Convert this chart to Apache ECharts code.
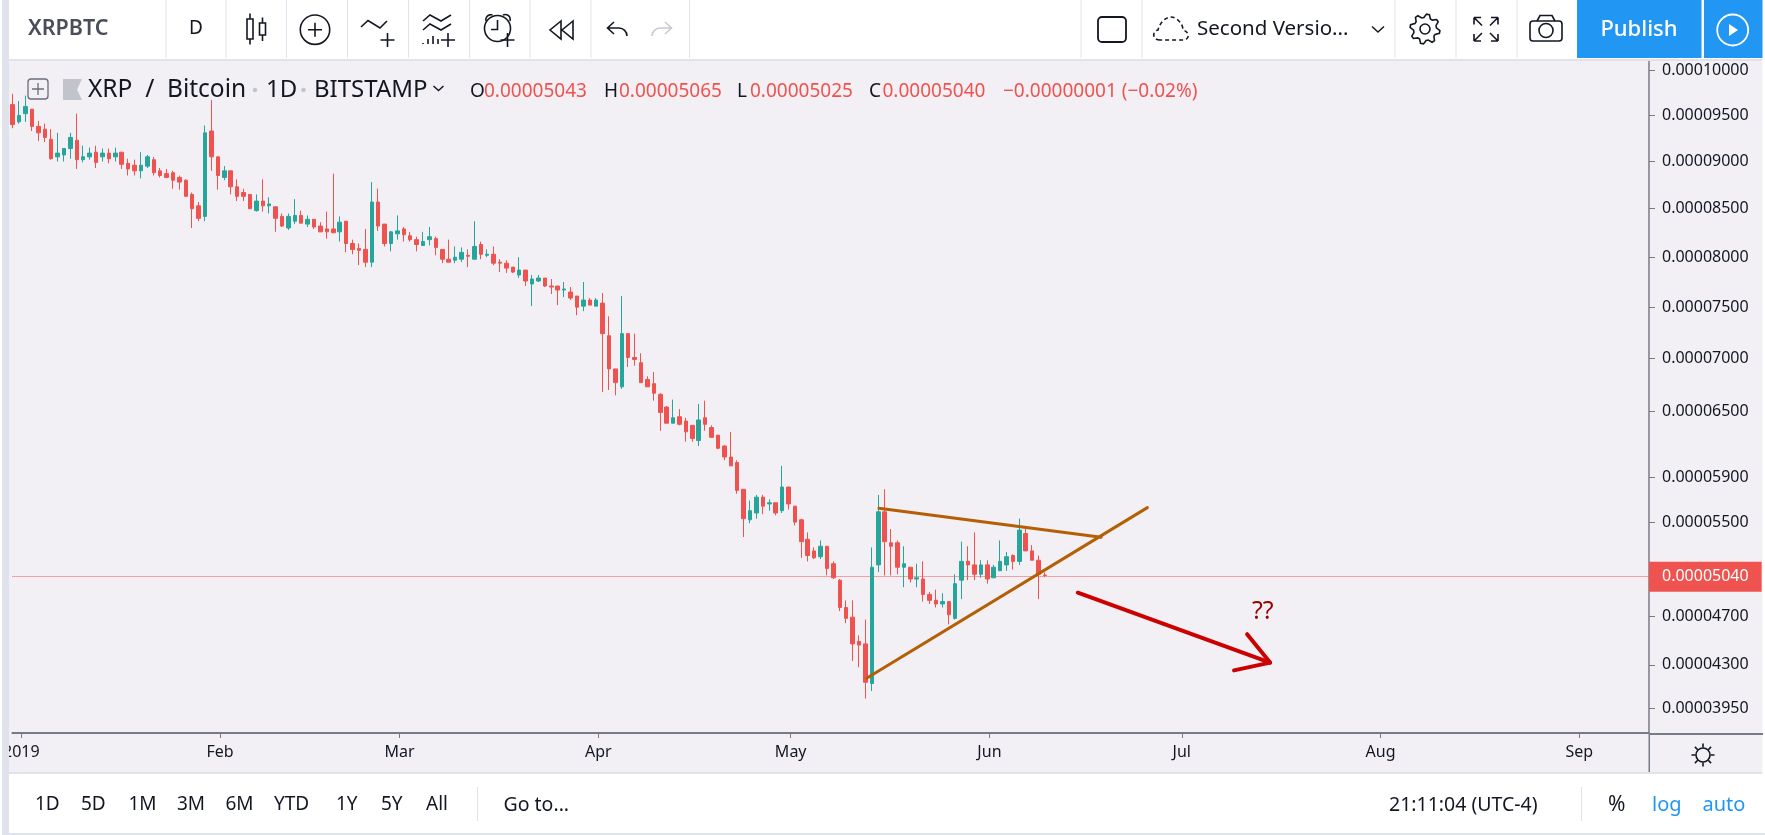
<!DOCTYPE html>
<html><head><meta charset="utf-8">
<style>html,body{margin:0;padding:0;background:#f2f0f4}#c{width:1765px;height:835px}</style>
<script src="https://cdn.jsdelivr.net/npm/echarts@6/dist/echarts.min.js"></script>
</head><body><div id="c"></div>
<script>
// All prices are in units of 0.00001 BTC
const opens=[9.62,9.43,9.52,9.57,9.38,9.35,9.24,9.05,9.07,9.14,
9.23,9.02,9.05,9.10,9.05,9.09,9.05,9.10,8.98,8.96,
8.90,8.95,9.02,8.90,8.87,8.88,8.83,8.80,8.65,8.53,
8.42,9.33,9.05,8.83,8.90,8.73,8.67,8.65,8.48,8.58,
8.53,8.52,8.42,8.30,8.37,8.43,8.34,8.39,8.32,8.29,
8.29,8.26,8.37,8.14,8.09,8.08,7.95,8.57,8.34,8.14,
8.24,8.29,8.22,8.18,8.12,8.18,8.19,8.08,7.98,7.97,
7.98,8.02,7.98,8.13,8.02,8.03,7.95,7.94,7.90,7.82,
7.87,7.73,7.76,7.79,7.71,7.71,7.67,7.65,7.61,7.51,
7.57,7.51,7.54,7.22,6.90,6.73,7.24,7.01,6.96,6.80,
6.76,6.66,6.54,6.39,6.45,6.41,6.37,6.23,6.44,6.35,
6.28,6.18,6.08,6.03,5.79,5.52,5.58,5.72,5.66,5.67,
5.60,5.81,5.64,5.52,5.35,5.25,5.20,5.29,5.14,5.00,
4.77,4.69,4.49,4.47,4.15,5.13,5.59,5.32,5.32,5.11,
5.11,5.01,5.01,4.88,4.83,4.80,4.82,4.68,5.00,5.16,
5.13,5.05,5.13,5.02,5.08,5.13,5.21,5.16,5.40,5.25,
5.17,5.043];
const highs=[9.74,9.66,9.72,9.57,9.44,9.41,9.35,9.31,9.14,9.31,
9.52,9.17,9.15,9.17,9.14,9.14,9.15,9.10,9.03,9.02,
9.10,9.07,9.05,8.93,8.92,8.90,8.85,8.81,8.67,8.57,
9.39,9.67,9.05,8.95,8.90,8.81,8.71,8.65,8.65,8.81,
8.62,8.52,8.45,8.45,8.60,8.48,8.43,8.39,8.36,8.47,
8.87,8.42,8.37,8.18,8.14,8.29,8.78,8.71,8.34,8.27,
8.43,8.31,8.26,8.21,8.26,8.31,8.21,8.08,8.18,8.11,
8.10,8.08,8.37,8.16,8.08,8.11,7.98,7.97,7.90,8.00,
7.87,7.82,7.82,7.79,7.78,7.71,7.75,7.70,7.61,7.75,
7.59,7.59,7.64,7.41,6.90,7.61,7.24,7.24,7.05,6.83,
6.87,6.67,6.55,6.61,6.52,6.44,6.37,6.57,6.60,6.37,
6.28,6.19,6.31,6.05,5.79,5.69,5.74,5.74,5.70,5.67,
6.00,5.81,5.64,5.53,5.41,5.28,5.34,5.29,5.16,5.01,
4.83,4.83,4.54,4.67,5.28,5.74,5.79,5.44,5.34,5.29,
5.11,5.14,5.16,4.90,4.92,4.89,4.82,5.05,5.33,5.29,
5.41,5.17,5.17,5.13,5.34,5.24,5.22,5.53,5.44,5.30,
5.21,5.065];
const lows=[9.36,9.41,9.43,9.33,9.22,9.21,9.02,9.00,9.00,9.03,
8.92,8.99,9.02,8.93,9.00,8.98,9.00,8.92,8.85,8.85,
8.82,8.93,8.85,8.83,8.83,8.71,8.70,8.63,8.30,8.37,
8.37,8.90,8.70,8.80,8.65,8.58,8.58,8.50,8.47,8.47,
8.45,8.26,8.31,8.28,8.34,8.35,8.31,8.29,8.26,8.19,
8.25,8.16,8.05,8.03,7.92,7.90,7.90,8.27,8.11,8.06,
8.18,8.16,8.16,8.06,8.12,8.12,8.02,7.94,7.95,7.94,
7.95,7.90,7.98,7.98,8.00,7.92,7.85,7.84,7.84,7.79,
7.71,7.51,7.75,7.70,7.63,7.52,7.60,7.57,7.42,7.46,
7.52,7.51,6.68,6.70,6.65,6.71,6.92,6.93,6.77,6.73,
6.60,6.32,6.39,6.39,6.37,6.22,6.22,6.18,6.32,6.26,
6.15,6.05,6.00,5.75,5.37,5.49,5.53,5.57,5.60,5.56,
5.58,5.61,5.47,5.19,5.16,5.18,5.18,5.04,5.01,4.74,
4.64,4.33,4.28,4.03,4.09,5.07,5.04,5.04,5.05,4.94,
4.98,4.94,4.82,4.80,4.77,4.77,4.63,4.67,4.84,5.00,
5.00,5.02,4.97,5.02,5.08,5.08,5.09,5.13,5.25,5.17,
4.84,5.025];
const closes=[9.40,9.50,9.60,9.38,9.31,9.26,9.03,9.09,9.14,9.26,
9.02,9.05,9.09,8.99,9.09,9.03,9.09,8.97,8.92,8.90,
8.96,9.05,8.88,8.85,8.83,8.80,8.78,8.63,8.50,8.40,
9.31,9.05,8.85,8.90,8.73,8.63,8.63,8.50,8.58,8.53,
8.55,8.40,8.32,8.42,8.43,8.35,8.39,8.31,8.26,8.26,
8.25,8.36,8.14,8.08,8.07,7.95,8.57,8.32,8.14,8.26,
8.27,8.23,8.18,8.13,8.16,8.21,8.10,7.98,7.95,8.00,
8.05,8.01,8.11,8.03,8.03,7.94,7.94,7.89,7.85,7.87,
7.76,7.78,7.79,7.71,7.70,7.67,7.68,7.59,7.50,7.57,
7.52,7.57,7.24,6.90,6.77,7.24,7.01,6.99,6.77,6.73,
6.67,6.49,6.39,6.44,6.38,6.31,6.25,6.42,6.38,6.26,
6.16,6.08,6.00,5.78,5.53,5.60,5.72,5.64,5.67,5.58,
5.81,5.66,5.50,5.33,5.21,5.19,5.29,5.10,5.02,4.77,
4.68,4.47,4.46,4.16,5.11,5.59,5.33,5.29,5.11,5.14,
5.01,5.02,4.88,4.83,4.80,4.82,4.71,4.97,5.16,5.13,
5.05,5.13,5.01,5.11,5.16,5.20,5.16,5.43,5.25,5.17,
5.05,5.04];
const priceTicks=[10,9.5,9,8.5,8,7.5,7,6.5,5.9,5.5,4.7,4.3,3.95];
const monthLabels=['2019','Feb','Mar','Apr','May','Jun','Jul','Aug','Sep'];
const monthDays=[0,31,59,90,120,151,181,212,243];     // days after 1 Jan 2019
const lastClose=5.04;
// drawing tools: [days after 1 Jan 2019, price]
const resistanceLine=[[133.76,5.622],[168.42,5.368]];
const supportLine=[[131.84,4.192],[175.63,5.627]];
const arrowShaft=[[164.78,4.894],[194.77,4.318]];
const arrowHead=[[191.19,4.549],[194.77,4.318],[189.15,4.255]];
const firstCandleDay=-1.34;

// the chart's price scale
const toAxis=p=>Math.log(p+10);
const fromAxis=v=>Math.exp(v)-10;
const candles=opens.map((o,i)=>[firstCandleDay+i,toAxis(o),toAxis(closes[i]),toAxis(lows[i]),toAxis(highs[i])]);
const path=pts=>pts.map(([d,p])=>[d,toAxis(p)]);
const FONT='"Noto Sans"', INK='#131722', GREY='#e0e3eb', AXIS='#787b86', UP='#26a69a', DOWN='#ef5350';

let shapeCount=0;
function shapeOf(d){const name='toolbarIcon'+(++shapeCount);echarts.graphic.registerShape(name,echarts.graphic.extendPath(d,{}));return name;}
const T=(x,y,text,size,color,extra)=>({type:'text',z:100,x,y,style:Object.assign({text,fontFamily:FONT,fontSize:size,fill:color||INK,textAlign:'left',textVerticalAlign:'middle'},extra||{})});
const R=(x,y,w,h,fill)=>({type:'rect',z:90,shape:{x,y,width:w,height:h},style:{fill}});
const I=(d,stroke,lw,fill,dash)=>({type:shapeOf(d),z:100,style:{stroke:fill&&!stroke?null:(stroke||INK),lineWidth:lw||1.6,fill:fill||'none',lineDash:dash||null}});
const C=(cx,cy,r,stroke,lw,fill)=>({type:'circle',z:100,shape:{cx,cy,r},style:{stroke:stroke||INK,lineWidth:lw||1.6,fill:fill||'none'}});
const plus=(x,y,a)=>`M${x-a} ${y}H${x+a}M${x} ${y-a}V${y+a}`;
function gear(cx,cy){let d='';const n=8;for(let i=0;i<n*4;i++){const a=(i+0.5)/(n*4)*Math.PI*2,r=(i%4<2)?15:11.5;d+=(i?'L':'M')+(cx+r*Math.cos(a)).toFixed(1)+' '+(cy+r*Math.sin(a)).toFixed(1);}return d+'Z';}
function rays(cx,cy){let d='';for(let i=0;i<8;i++){const a=i/8*Math.PI*2+Math.PI/2;d+=`M${(cx+7.5*Math.cos(a)).toFixed(1)} ${(cy+7.5*Math.sin(a)).toFixed(1)}L${(cx+11.5*Math.cos(a)).toFixed(1)} ${(cy+11.5*Math.sin(a)).toFixed(1)}`;}return d;}

const seps=[165.5,225.5,286,347,408,469,529.5,590.5,689,1080.5,1141.5,1394.5,1455.5,1516.5];
const ranges=[['1D',35],['5D',81],['1M',128.5],['3M',177],['6M',225.5],['YTD',274],['1Y',336],['5Y',381],['All',426]];
const chrome=[
 R(0,0,1765,59,'#ffffff'),R(9,59,1756,2,GREY),
 R(0,774,1765,59,'#ffffff'),R(0,772,1765,2,GREY),R(0,833,1765,2,GREY),
 R(0,0,2,835,'#ffffff'),R(2,0,7,835,GREY),R(1762.5,59,2.5,715,'#ffffff'),
 ...seps.map(x=>R(x,0,1,58,GREY)),
 R(1577,0,124.5,58,'#2196f3'),R(1704,0,58.5,58,'#2196f3'),
 R(477,787,1,34,GREY),R(1581,787,1,34,GREY),
 T(28,29,'XRPBTC',21.5,'#4a4e59',{fontWeight:600}),T(189,29,'D',19),
 // candles icon
 I('M250 13.5V19M250 39V44.5M247 19H253V39H247ZM262.5 17.5V23M262.5 35V41M259.5 23H265.5V35H259.5Z'),
 C(315,29.7,14.7),I(plus(315,29.7,7)),
 I('M361 27L368 20.5L380 28L387 21'),I(plus(387.5,40,7)),
 I('M423 21L430 15L441 21L451 15M423 30L430 24L441 30L451 24'),I('M423 44V43M428 44V39M433 44V36M438 44V39'),I(plus(448,40,7)),
 C(497.5,28.5,13),I('M497.5 20V29.5H491M486 21A5 5 0 0 1 492.5 15M503 15A5 5 0 0 1 510 21'),I(plus(507.5,40,7)),
 I('M561 21L550 30L561 39ZM573 21L562 30L573 39Z'),
 I('M614 22L607.5 28L614 34M607.5 28H619A8 8 0 0 1 627 36'),
 I('M665 22L671.5 28L665 34M671.5 28H660A8 8 0 0 0 652 36','#c8cad2'),
 // title row
 I('M30.5 79H45.5A3 3 0 0 1 48 82V96A3 3 0 0 1 45.5 99H30.5A3 3 0 0 1 28 96V82A3 3 0 0 1 30.5 79ZM38 83V95M32 89H44','#6a6d78',1.3),
 I('M63 79H82L77 89.5L82 100H63Z',null,0,'#c1c4cd'),
 T(88,90,'XRP  /  Bitcoin',24.5),C(255,90,1.8,'#c1c4cd',1,'#c1c4cd'),T(266,90,'1D',24),C(303.5,90,1.8,'#c1c4cd',1,'#c1c4cd'),T(314,90,'BITSTAMP',24),
 I('M433.5 86L438.5 90.5L443.5 86',INK,1.5),
 T(470,91.5,'O',19),T(484,91.5,'0.00005043',19,DOWN),
 T(604,91.5,'H',19),T(619,91.5,'0.00005065',19,DOWN),
 T(737,91.5,'L',19),T(750,91.5,'0.00005025',19,DOWN),
 T(869,91.5,'C',19),T(882.5,91.5,'0.00005040',19,DOWN),
 T(1003,91.5,'\u22120.00000001 (\u22120.02%)',19,DOWN),
 // right toolbar
 {type:'rect',z:100,shape:{x:1098,y:17,width:28,height:25,r:4},style:{stroke:INK,lineWidth:1.8,fill:'none'}},
 I('M1160 40C1152 40 1152 31 1158 30C1160 22 1166 17 1171 17C1177 17 1183 24 1183 30C1190 32 1190 40 1183 40Z',INK,1.6,null,[4,3]),
 T(1197,29.5,'Second Versio...',20.5),I('M1372 26.5L1378 32L1384 26.5',INK,1.5),
 I(gear(1425,29)),C(1425,29,5),
 I('M1474 17.5H1481M1474 17.5V24.5M1474 17.5L1482 25.5M1498 17.5H1491M1498 17.5V24.5M1498 17.5L1490 25.5M1474 41H1481M1474 41V34M1474 41L1482 33M1498 41H1491M1498 41V34M1498 41L1490 33'),
 {type:'rect',z:100,shape:{x:1530,y:21,width:32,height:20,r:3},style:{stroke:INK,lineWidth:1.6,fill:'none'}},I('M1537 21L1540 15.5H1552L1555 21'),C(1546,30.5,7),
 T(1639,29.5,'Publish',22,'#ffffff',{fontWeight:500,textAlign:'center'}),
 C(1732.7,30,15.5,'#ffffff',1.8),I('M1729 24L1738 30L1729 36Z',null,0,'#ffffff'),
 // bottom
 ...ranges.map(r=>T(r[1],805,r[0],19)),T(503.5,805,'Go to...',19.5),
 T(1389,805,'21:11:04 (UTC-4)',19.5),T(1608,805,'%',21),T(1652,805,'log',20,'#2196f3'),T(1702.5,805,'auto',20,'#2196f3'),
 // axis extension and theme icon
 R(1649,733,114,2,AXIS),R(1648.5,733,1.5,39,AXIS),
 C(1703,755,7),I(rays(1703,755)),
 T(1252,612,'??',25,'#990000')
];

const lineSeries=(data,color,width)=>({type:'line',data,showSymbol:false,symbol:'none',silent:true,lineStyle:{color,width,cap:'round',join:'round'},z:5});
const chart=echarts.init(document.getElementById('c'),null,{width:1765,height:835});
chart.setOption({
 animation:false,backgroundColor:'#f2f0f4',
 grid:{left:9,right:116,top:60,bottom:102,containLabel:false},
 xAxis:{type:'value',min:-1.385,max:253.87,
  splitLine:{show:false},
  axisLine:{show:true,onZero:false,lineStyle:{color:AXIS,width:2}},
  axisTick:{show:true,length:5,lineStyle:{color:AXIS,width:1},customValues:monthDays},
  axisLabel:{show:true,color:INK,fontFamily:FONT,fontSize:16,margin:11,hideOverlap:false,
   customValues:monthDays,
   formatter:v=>{const i=monthDays.indexOf(+v);return i<0?'':monthLabels[i];}}},
 yAxis:{type:'value',position:'right',min:2.62176,max:3.00174,scale:true,
  splitLine:{show:false},
  axisLine:{show:true,onZero:false,lineStyle:{color:AXIS,width:1.5}},
  axisTick:{show:true,length:6,lineStyle:{color:AXIS,width:1},customValues:priceTicks.map(toAxis)},
  axisLabel:{show:true,color:INK,fontFamily:FONT,fontSize:16,margin:13,align:'left',
   customValues:priceTicks.map(toAxis),
   formatter:v=>(fromAxis(v)*1e-5).toFixed(8)}},
 series:[
  {type:'candlestick',data:candles,encode:{x:0,y:[1,2,3,4]},barWidth:4,silent:true,z:3,
   itemStyle:{color:UP,color0:DOWN,borderColor:UP,borderColor0:DOWN,borderWidth:1},
   markLine:{symbol:'none',silent:true,animation:false,z:2,
    data:[{yAxis:toAxis(lastClose)}],
    lineStyle:{type:'dotted',color:DOWN,width:1},
    label:{position:'end',distance:0,formatter:()=>(lastClose*1e-5).toFixed(8),color:'#ffffff',fontFamily:FONT,fontSize:16,backgroundColor:DOWN,padding:[7,13,7,13]}}},
  lineSeries(path(resistanceLine),'#b45f06',3),
  lineSeries(path(supportLine),'#b45f06',3),
  lineSeries(path(arrowShaft),'#cc0000',4),
  lineSeries(path(arrowHead),'#cc0000',4)
 ],
 graphic:{elements:chrome}
});
</script></body></html>
